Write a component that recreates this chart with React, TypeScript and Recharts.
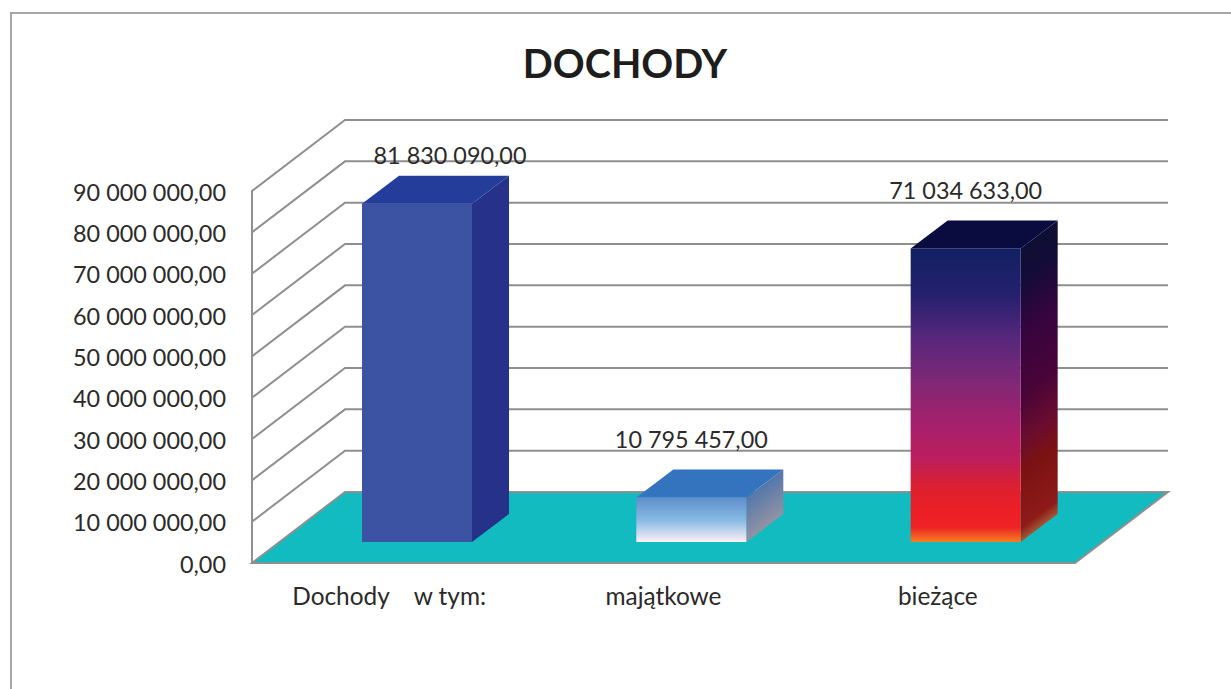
import { BarChart, Bar, XAxis, YAxis, ReferenceLine, LabelList } from "recharts"

const categories = ["Dochody\u00a0\u00a0\u00a0\u00a0w tym:", "majątkowe", "bieżące"]
const values = [81830090, 10795457, 71034633]
const yTicks = [0, 10000000, 20000000, 30000000, 40000000, 50000000, 60000000, 70000000, 80000000, 90000000]

const data = categories.map((name, i) => ({ name, value: values[i] }))

const font = "Lato, 'Open Sans', sans-serif"
const textColor = "#2b2a29"
const gridColor = "#8f8f8f"

// oblique projection of the "3D" box
const wallDx = 93
const wallDy = 71
const barDx = 28
const barDy = 21
const depthDx = 37
const depthDy = 28
const floorWidth = 823
const tickGap = 41.33

const faces = [
  { front: "#3c53a3", top: "#243d9a", side: "#26318a" },
  { front: "url(#front2)", top: "#3473bd", side: "url(#side2)" },
  { front: "url(#front3)", top: "#0a0c40", side: "url(#side3)" },
]
const labelNudge = [
  { dx: 33, dy: -21 },
  { dx: 0, dy: -30 },
  { dx: 0, dy: -30 },
]

const fmt = (v: number) => String(v).replace(/\B(?=(\d{3})+$)/g, " ") + ",00"

function WallLine(props: any) {
  const { x1, y1 } = props
  return (
    <path
      d={`M${x1} ${y1 + tickGap}V${y1}L${x1 + wallDx} ${y1 - wallDy}H${x1 + wallDx + floorWidth}`}
      fill="none"
      stroke={gridColor}
      strokeWidth={2}
    />
  )
}

function Floor(props: any) {
  const { x1, y1 } = props
  const b = y1 - wallDy
  return (
    <path
      d={`M${x1} ${y1}L${x1 + wallDx} ${b}H${x1 + wallDx + floorWidth}L${x1 + floorWidth} ${y1}Z`}
      fill="#12bbbf"
      stroke={gridColor}
      strokeWidth={2}
    />
  )
}

function Box(props: any) {
  const { x, y, width, height, index } = props
  const c = faces[index]
  const l = x + barDx
  const r = l + width
  const t = y - barDy
  const b = t + height
  return (
    <g>
      <path d={`M${r} ${t}L${r + depthDx} ${t - depthDy}V${b - depthDy}L${r} ${b}Z`} fill={c.side} />
      <path d={`M${l} ${t}L${l + depthDx} ${t - depthDy}H${r + depthDx}L${r} ${t}Z`} fill={c.top} />
      <rect x={l} y={t} width={width} height={height} fill={c.front} />
    </g>
  )
}

function BoxLabel(props: any) {
  const { x, y, width, value, index } = props
  const n = labelNudge[index]
  return (
    <text
      x={x + barDx + width / 2 + n.dx}
      y={y - barDy - depthDy + n.dy}
      textAnchor="middle"
      dominantBaseline="central"
      fontFamily={font}
      fontSize={23.4}
      fill={textColor}
    >
      {fmt(value)}
    </text>
  )
}

export default function App() {
  return (
    <div style={{ position: "fixed", left: 0, top: 0, width: 1231, height: 689, background: "#fff", overflow: "hidden" }}>
      <div style={{ position: "absolute", left: 10, top: 12, width: 1240, height: 700, border: "2px solid #a6a6a6" }} />
      <div
        style={{
          position: "absolute",
          left: 0,
          top: 36,
          width: 1250,
          textAlign: "center",
          fontFamily: font,
          fontWeight: 700,
          fontSize: 39.5,
          lineHeight: "54px",
          color: "#1d1d1b",
        }}
      >
        DOCHODY
      </div>
      <div style={{ position: "absolute", left: 0, top: 0 }}>
        <BarChart
          width={1231}
          height={689}
          data={data}
          barSize={110}
          margin={{ top: 191, right: 156, bottom: 66, left: 12 }}
        >
          <defs>
            <linearGradient id="front2" x1="0" y1="0" x2="0" y2="1">
              <stop offset="0%" stopColor="#5e8dca" />
              <stop offset="50%" stopColor="#86b9e3" />
              <stop offset="100%" stopColor="#fdeff6" />
            </linearGradient>
            <linearGradient id="side2" x1="0" y1="0" x2="0.38" y2="1">
              <stop offset="0%" stopColor="#2c65ae" />
              <stop offset="100%" stopColor="#a19aa3" />
            </linearGradient>
            <linearGradient id="front3" x1="0" y1="0" x2="0" y2="1">
              <stop offset="0%" stopColor="#122062" />
              <stop offset="15%" stopColor="#23206c" />
              <stop offset="30%" stopColor="#55277c" />
              <stop offset="45%" stopColor="#7e2876" />
              <stop offset="60%" stopColor="#a6206c" />
              <stop offset="72%" stopColor="#bd1e5c" />
              <stop offset="81%" stopColor="#db2030" />
              <stop offset="90%" stopColor="#ee1f26" />
              <stop offset="95%" stopColor="#ee2325" />
              <stop offset="100%" stopColor="#f68020" />
            </linearGradient>
            <linearGradient id="side3" x1="0" y1="0" x2="0.087" y2="1">
              <stop offset="0%" stopColor="#0b1030" />
              <stop offset="18%" stopColor="#120c38" />
              <stop offset="35%" stopColor="#36043f" />
              <stop offset="55%" stopColor="#4a0438" />
              <stop offset="68%" stopColor="#6b0c30" />
              <stop offset="78%" stopColor="#7b1212" />
              <stop offset="95%" stopColor="#8f1a1a" />
              <stop offset="100%" stopColor="#a2633a" />
            </linearGradient>
          </defs>
          <XAxis
            dataKey="name"
            height={60}
            tickLine={false}
            tickSize={0}
            tickMargin={25}
            interval={0}
            axisLine={{ stroke: gridColor, strokeWidth: 2 }}
            tick={{ fontFamily: font, fontSize: 24.4, fill: textColor }}
          />
          <YAxis
            width={240}
            domain={[0, 90000000]}
            ticks={yTicks}
            interval={0}
            tickLine={false}
            tickSize={0}
            tickMargin={26}
            tickFormatter={fmt}
            axisLine={{ stroke: gridColor, strokeWidth: 2 }}
            tick={{ fontFamily: font, fontSize: 23.4, fill: textColor, dy: 1.5 }}
          />
          <ReferenceLine y={0} shape={Floor} zIndex={100} />
          {yTicks.slice(1).map((t) => (
            <ReferenceLine key={t} y={t} shape={WallLine} zIndex={100} />
          ))}
          <Bar dataKey="value" shape={Box} isAnimationActive={false}>
            <LabelList dataKey="value" content={BoxLabel} />
          </Bar>
        </BarChart>
      </div>
    </div>
  )
}
